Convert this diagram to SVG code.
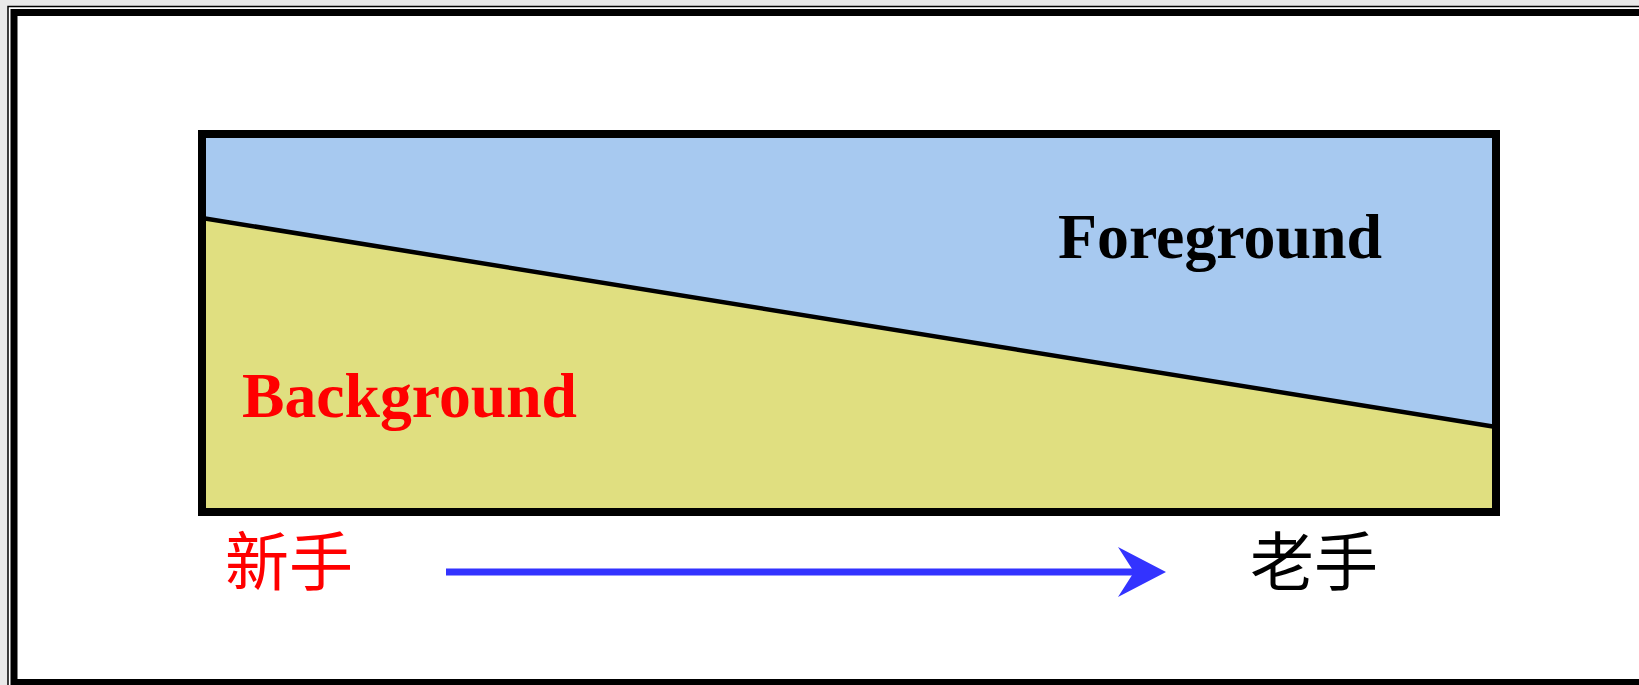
<svg xmlns="http://www.w3.org/2000/svg" width="1639" height="685" viewBox="0 0 1639 685">
<style>
.lbl{font-family:"Liberation Serif","Times New Roman",serif;font-weight:bold;font-size:63px}
.cjk{font-family:"Noto Sans CJK SC","Noto Sans CJK TC",sans-serif;font-size:64px}
</style>
<rect x="0" y="0" width="1639" height="685" fill="#e9e9e9"/>
<rect x="8" y="6.5" width="1640" height="690" fill="#fff" stroke="#000" stroke-width="1.5"/>
<rect x="14" y="12.5" width="1640" height="670" fill="#fff" stroke="#000" stroke-width="7"/>
<g id="chart">
<polygon points="202,134 1496,134 1496,427 202,218" fill="#a7c9f0"/>
<polygon points="202,218 1496,427 1496,512 202,512" fill="#e0df80"/>
<line x1="202" y1="218" x2="1496" y2="427" stroke="#000" stroke-width="4.5"/>
<rect x="202" y="134" width="1294" height="378" fill="none" stroke="#000" stroke-width="8"/>
</g>
<g id="foreground"><text class="lbl" x="1058" y="258" fill="#000" textLength="324" lengthAdjust="spacingAndGlyphs">Foreground</text></g>
<g id="background"><text class="lbl" x="242" y="417" fill="#ff0000" textLength="335" lengthAdjust="spacingAndGlyphs">Background</text></g>
<g id="novice"><text class="cjk" x="225" y="585" fill="#ff0000">新手</text></g>
<g id="expert"><text class="cjk" x="1250" y="585" fill="#000">老手</text></g>
<g id="connectors">
<line x1="446" y1="572" x2="1136" y2="572" stroke="#3333ff" stroke-width="7"/>
<polygon points="1166,572 1118,547 1134,572 1118,597" fill="#3333ff"/>
</g>
</svg>
